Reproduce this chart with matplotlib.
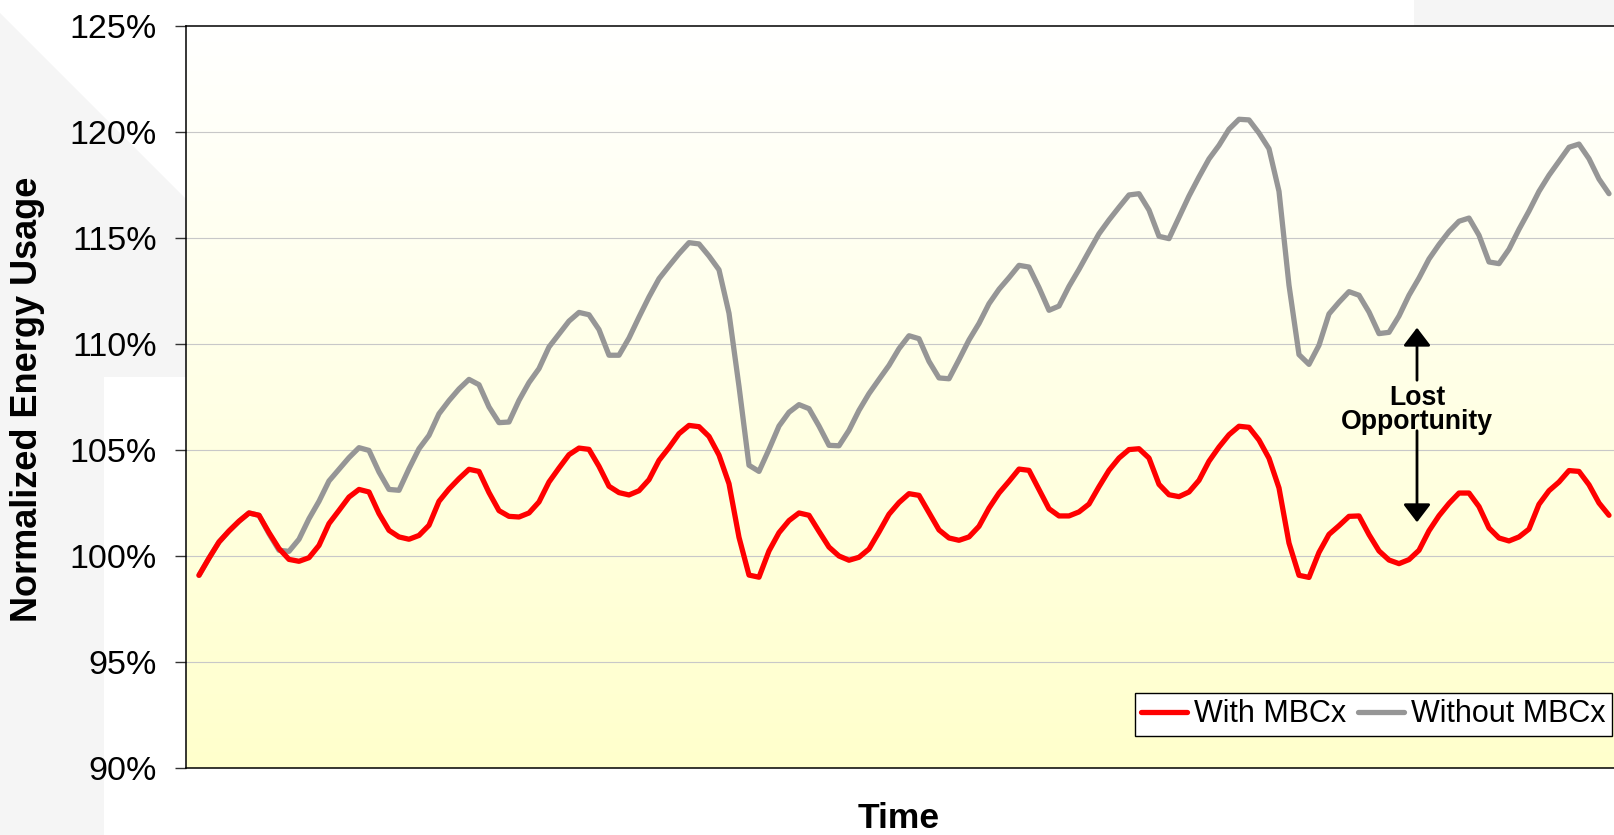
import matplotlib
matplotlib.use("Agg")
import matplotlib.pyplot as plt
from matplotlib.patches import Polygon, Rectangle, FancyArrowPatch
from matplotlib.colors import LinearSegmentedColormap
from matplotlib.ticker import FuncFormatter
import numpy as np

plt.rcParams["font.family"] = ["Liberation Sans", "DejaVu Sans"]

# Normalized energy usage (%) sampled at equal time steps
with_mbcx = [
    99.09, 99.90, 100.66, 101.18, 101.64, 102.03, 101.92, 101.10, 100.35, 99.84,
    99.75, 99.92, 100.50, 101.53, 102.15, 102.78, 103.14, 103.02, 102.00, 101.21,
    100.90, 100.79, 100.97,
    101.45, 102.58, 103.16, 103.65, 104.09, 103.99, 102.99, 102.14, 101.87, 101.84,
    102.03, 102.55, 103.49, 104.15, 104.78, 105.09, 105.03, 104.23, 103.29, 102.99,
    102.88, 103.08, 103.60, 104.51,
    105.11, 105.77, 106.16, 106.10, 105.64, 104.76, 103.41, 100.88, 99.10, 99.00,
    100.24, 101.10, 101.67, 102.03, 101.92, 101.16, 100.42, 100.00, 99.80, 99.94,
    100.33, 101.13, 101.97, 102.52,
    102.94, 102.86, 102.04, 101.23, 100.85, 100.74, 100.90, 101.40, 102.26, 102.97,
    103.52, 104.10, 104.04, 103.13, 102.23, 101.89, 101.89, 102.08, 102.45, 103.27,
    104.04, 104.62, 105.02, 105.06,
    104.62, 103.38, 102.89, 102.80, 103.02, 103.57, 104.47, 105.14, 105.72, 106.12,
    106.07, 105.47, 104.61, 103.21, 100.61, 99.09, 98.99, 100.17, 101.02, 101.43,
    101.87, 101.89, 101.01, 100.24,
    99.81, 99.64, 99.83, 100.27, 101.19, 101.90, 102.48, 102.97, 102.97, 102.33,
    101.32, 100.85, 100.71, 100.90, 101.27, 102.44, 103.08, 103.49, 104.03, 103.99,
    103.36, 102.50, 101.92,
]

without_mbcx = [
    99.09, 99.90, 100.66, 101.18, 101.64, 102.03, 101.92, 101.05, 100.27, 100.22,
    100.79, 101.76, 102.58, 103.54, 104.09, 104.64, 105.11, 104.98, 103.96, 103.14,
    103.10, 104.12, 105.06,
    105.69, 106.71, 107.33, 107.88, 108.33, 108.08, 107.03, 106.29, 106.32, 107.34,
    108.18, 108.84, 109.86, 110.47, 111.08, 111.49, 111.38, 110.68, 109.47, 109.47,
    110.28, 111.27, 112.22, 113.08,
    113.68, 114.26, 114.78, 114.72, 114.15, 113.50, 111.45, 108.00, 104.28, 103.99,
    105.03, 106.13, 106.78, 107.14, 106.95, 106.13, 105.22, 105.20, 105.93, 106.87,
    107.66, 108.33, 108.99, 109.78,
    110.39, 110.25, 109.18, 108.40, 108.36, 109.26, 110.19, 110.97, 111.90, 112.58,
    113.13, 113.71, 113.63, 112.66, 111.59, 111.79, 112.72, 113.52, 114.37, 115.20,
    115.85, 116.45, 117.03, 117.09,
    116.32, 115.08, 114.97, 115.97, 116.98, 117.88, 118.73, 119.37, 120.13, 120.60,
    120.57, 119.95, 119.21, 117.20, 112.77, 109.50, 109.04, 109.94, 111.42, 111.97,
    112.47, 112.30, 111.51, 110.49,
    110.55, 111.32, 112.30, 113.11, 114.01, 114.69, 115.30, 115.79, 115.94, 115.13,
    113.87, 113.79, 114.47, 115.41, 116.27, 117.20, 117.96, 118.62, 119.28, 119.43,
    118.74, 117.78, 117.09,
]

y_ticks = [90, 95, 100, 105, 110, 115, 120, 125]
series_labels = ["With MBCx", "Without MBCx"]
annotation_text = "Lost\nOpportunity"
gap_top = 110.9      # upper arrow tip (%)
gap_bottom = 101.46  # lower arrow tip (%)
gap_time = 121.8     # time step where the gap is marked

W, H = 1614, 835
fig = plt.figure(figsize=(W / 100, H / 100), dpi=100)
fig.patch.set_facecolor("white")


def fx(px):
    return px / W


def fy(py):
    return 1 - py / H


# Slide backdrop shapes
bg = "#f5f5f5"
fig.patches.append(Polygon(
    [(fx(0), fy(13)), (fx(186), fy(199)), (fx(186), fy(377)), (fx(104), fy(377)),
     (fx(104), fy(835)), (fx(0), fy(835))],
    closed=True, transform=fig.transFigure, facecolor=bg, edgecolor="none", zorder=-5))
fig.patches.append(Rectangle((fx(1414), fy(120)), fx(200), 120 / H,
                             transform=fig.transFigure, facecolor=bg,
                             edgecolor="none", zorder=-5))

ax = fig.add_axes([fx(186), fy(768), 1 - fx(186), (768 - 26) / H])

t = np.arange(len(with_mbcx))
xmin, xmax = -1.3, 141.5
ymin, ymax = 90, 125

# Vertical white-to-yellow gradient in the plot area
grad_cmap = LinearSegmentedColormap.from_list("bgfill", ["#ffffcc", "#ffffff"])
grad = np.linspace(0, 1, 256).reshape(-1, 1)
ax.imshow(grad, extent=[xmin, xmax, ymin, ymax], origin="lower", aspect="auto",
          cmap=grad_cmap, zorder=-2, interpolation="bicubic")

for v in y_ticks[1:-1]:
    ax.axhline(v, color="#c8c8c8", lw=0.8, zorder=0)

ax.plot(t, without_mbcx, color="#969696", lw=3.8, solid_joinstyle="round",
        solid_capstyle="round", label=series_labels[1], zorder=3)
ax.plot(t, with_mbcx, color="#ff0000", lw=3.8, solid_joinstyle="round",
        solid_capstyle="round", label=series_labels[0], zorder=4)

ax.set_xlim(xmin, xmax)
ax.set_ylim(ymin, ymax)
ax.set_yticks(y_ticks)
ax.yaxis.set_major_formatter(FuncFormatter(lambda v, p: f"{v:.0f}%"))
ax.set_xticks([])
ax.tick_params(axis="y", direction="out", length=8, width=1.0, color="#333333",
               labelsize=24.5, pad=13)

for side in ["left", "top", "bottom"]:
    ax.spines[side].set_color("black")
    ax.spines[side].set_linewidth(1.1)
ax.spines["right"].set_visible(False)

# Gap annotation
arrow_style = "-|>,head_length=0.55,head_width=0.42"
ax.add_patch(FancyArrowPatch((gap_time, 108.16), (gap_time, gap_top),
                             arrowstyle=arrow_style, mutation_scale=20, lw=2.0,
                             color="black", zorder=5))
ax.add_patch(FancyArrowPatch((gap_time, 106.04), (gap_time, gap_bottom),
                             arrowstyle=arrow_style, mutation_scale=20, lw=2.0,
                             color="black", zorder=5))
ax.text(gap_time, 106.9, annotation_text, ha="center", va="center",
        fontsize=19.2, fontweight="bold", linespacing=0.92, zorder=6)

handles, labels = ax.get_legend_handles_labels()
order = [1, 0]
leg = ax.legend([handles[i] for i in order], [labels[i] for i in order],
                loc="lower right", bbox_to_anchor=(fx(1612), fy(736)),
                bbox_transform=fig.transFigure, ncol=2, fontsize=22,
                frameon=True, fancybox=False, framealpha=1, edgecolor="black",
                borderpad=0.22, handlelength=1.5, handletextpad=0.22,
                columnspacing=0.4, borderaxespad=0)
leg.get_frame().set_linewidth(1.0)

fig.text(fx(28), fy(399), "Normalized Energy Usage", rotation=90, ha="center",
         va="center", fontsize=26, fontweight="bold")
fig.text(fx(899), fy(818), "Time", ha="center", va="center", fontsize=25.5,
         fontweight="bold")

fig.savefig("out.png", dpi=100)
